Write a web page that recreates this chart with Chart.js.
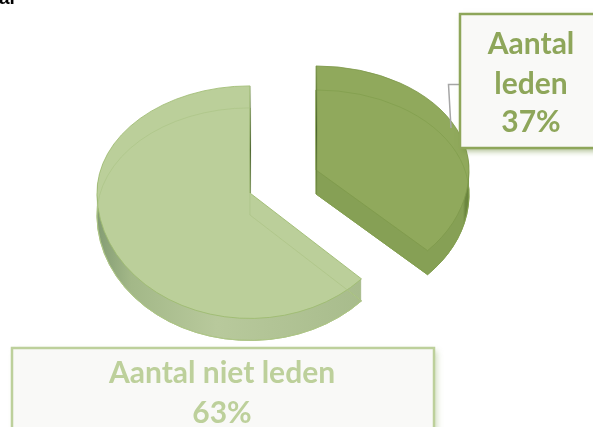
<!DOCTYPE html>
<html>
<head>
<meta charset="utf-8">
<title>Aantal leden</title>
<script src="https://cdn.jsdelivr.net/npm/chart.js@4"></script>
<style>
    html, body { margin: 0; padding: 0; background: #fff; overflow: hidden; }
    canvas { display: block; }
</style>
</head>
<body>
<canvas id="pie" width="593" height="427"></canvas>
<script>
// Data
const categories = ['Aantal leden', 'Aantal niet leden'];
const shares = [37, 63];
const faceColors = ['#90a95c', '#bbcf9a'];
const edgeColors = ['#7f9a4c', '#9fbc72'];
const ghostColors = ['#83a04f', '#afc68a'];
const labelFont = 'bold 30px Lato, "Open Sans", sans-serif';

// Look of the tilted pie
const explode = 36;
const pieMiddleY = 181.5;
const apexTilt = 0.8;
const tiltUp = [0.68, 0.70];
const tiltDown = [0.77, 0.82];
const depths = [24, 22];

function wallGradient(ctx, i, x, r) {
    const g = ctx.createLinearGradient(x - r, 0, x + r, 0);
    if (i === 0) {
        g.addColorStop(0, '#86a055');
        g.addColorStop(0.872, '#86a055');
        g.addColorStop(0.88, '#6d8840');
        g.addColorStop(0.97, '#4a6428');
        g.addColorStop(1, '#4a6428');
    } else {
        g.addColorStop(0, '#66805a');
        g.addColorStop(0.06, '#76906a');
        g.addColorStop(0.22, '#a3b888');
        g.addColorStop(0.5, '#b8c99c');
        g.addColorStop(1, '#a7bb8b');
    }
    return g;
}

// Draws one slice twice, the half above and below its point use a different tilt
function drawTilted(ctx, arc, i, ax, ay, look) {
    const saved = arc.options;
    arc.options = Object.assign({}, saved, look);
    [[0, ay, tiltUp[i]], [ay, 427 - ay, tiltDown[i]]].forEach(function (part) {
        ctx.save();
        ctx.beginPath();
        ctx.rect(0, part[0], 593, part[1]);
        ctx.clip();
        ctx.translate(ax, ay);
        ctx.scale(1, part[2]);
        ctx.translate(-arc.x, -arc.y);
        arc.draw(ctx);
        ctx.restore();
    });
    arc.options = saved;
}

const tiltedPie = {
    id: 'tiltedPie',
    beforeDatasetsDraw(chart) {
        const ctx = chart.ctx;
        const arcs = chart.getDatasetMeta(0).data;
        // light slice goes first, the dark one sits behind nothing
        [1, 0].forEach(function (i) {
            const arc = arcs[i];
            const mid = (arc.startAngle + arc.endAngle) / 2;
            const ax = arc.x + Math.cos(mid) * explode;
            const ay = Math.round(pieMiddleY + Math.sin(mid) * explode * apexTilt);
            const r = arc.outerRadius;
            const wall = wallGradient(ctx, i, ax, r);

            for (let d = depths[i]; d >= 1; d--) {
                drawTilted(ctx, arc, i, ax, ay + d, { backgroundColor: wall, borderWidth: 0 });
            }
            drawTilted(ctx, arc, i, ax, ay + depths[i], {
                backgroundColor: 'rgba(0,0,0,0)', borderColor: edgeColors[i], borderWidth: 1
            });
            drawTilted(ctx, arc, i, ax, ay, {
                backgroundColor: faceColors[i], borderColor: edgeColors[i], borderWidth: 1
            });
            // bottom face showing through the top one
            drawTilted(ctx, arc, i, ax, ay + depths[i], {
                backgroundColor: 'rgba(0,0,0,0)', borderColor: ghostColors[i], borderWidth: 1
            });

            // dark sliver along the straight edge at twelve o'clock
            const top = ay - r * tiltUp[i];
            const sliver = ctx.createLinearGradient(0, top, 0, ay + depths[i]);
            sliver.addColorStop(0, 'rgba(70,95,40,0.15)');
            sliver.addColorStop(0.5, 'rgba(70,95,40,0.9)');
            sliver.addColorStop(1, 'rgba(70,95,40,0.2)');
            ctx.save();
            ctx.strokeStyle = sliver;
            ctx.lineWidth = 1.2;
            ctx.beginPath();
            ctx.moveTo(ax + 0.5, top);
            ctx.lineTo(ax + 0.5, ay + (i === 0 ? depths[i] : 0));
            ctx.stroke();
            ctx.restore();
        });
        return false;
    },
    afterDraw(chart) {
        const ctx = chart.ctx;
        ctx.save();

        // cut off word at the top left corner
        ctx.fillStyle = '#000';
        ctx.font = 'bold 19px "Liberation Sans", sans-serif';
        ctx.textAlign = 'left';
        ctx.textBaseline = 'alphabetic';
        ctx.fillText('al', -1, 4);

        // leader line of the dark slice
        ctx.strokeStyle = '#a6a6a6';
        ctx.lineWidth = 1.5;
        ctx.beginPath();
        ctx.moveTo(460, 84.5);
        ctx.lineTo(448.5, 84.5);
        ctx.lineTo(451, 128);
        ctx.stroke();

        drawLabel(ctx, 460, 14, 140, 134, '#8ea65a', '#8ea65a', 'rgba(110,140,60,0.6)',
            ['Aantal', 'leden', shares[0] + '%'], 531, [54, 94, 132]);
        drawLabel(ctx, 12, 348, 422, 100, '#bdd09b', '#bdd09b', 'rgba(150,180,110,0.45)',
            [categories[1], shares[1] + '%'], 222, [383, 423]);
        ctx.restore();
    }
};

function drawLabel(ctx, x, y, w, h, border, text, shadow, lines, cx, baselines) {
    ctx.save();
    ctx.shadowColor = shadow;
    ctx.shadowBlur = 6;
    ctx.shadowOffsetX = 3;
    ctx.shadowOffsetY = 3;
    ctx.fillStyle = '#f9f9f7';
    ctx.fillRect(x, y, w, h);
    ctx.restore();
    ctx.strokeStyle = border;
    ctx.lineWidth = 2.5;
    ctx.strokeRect(x, y, w, h);
    ctx.fillStyle = text;
    ctx.font = labelFont;
    ctx.textAlign = 'center';
    ctx.textBaseline = 'alphabetic';
    lines.forEach(function (line, n) {
        ctx.fillText(line, cx, baselines[n]);
    });
}

new Chart(document.getElementById('pie').getContext('2d'), {
    type: 'pie',
    data: {
        labels: categories,
        datasets: [{
            data: shares,
            backgroundColor: faceColors,
            borderColor: edgeColors,
            borderWidth: 1,
            radius: 153
        }]
    },
    options: {
        responsive: false,
        animation: false,
        layout: { padding: { right: 27 } },
        plugins: {
            legend: { display: false },
            tooltip: { enabled: false }
        }
    },
    plugins: [tiltedPie]
});
</script>
</body>
</html>
